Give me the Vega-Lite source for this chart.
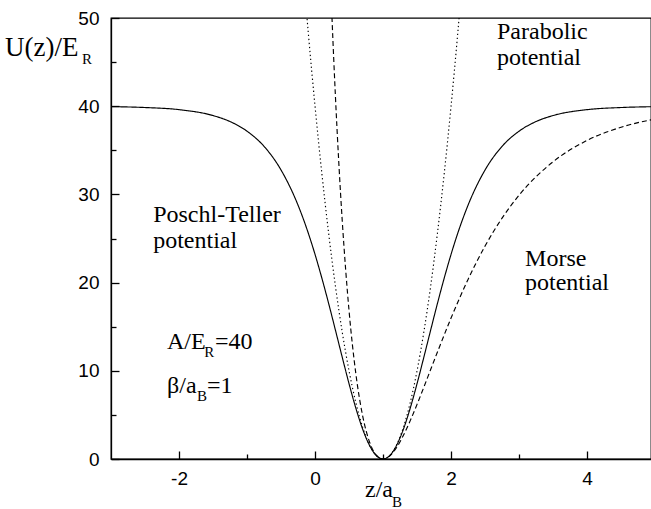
{
  "$schema": "https://vega.github.io/schema/vega-lite/v6.json",
  "width": 540,
  "height": 441,
  "autosize": {"type": "none"},
  "padding": {"left": 111, "top": 18, "right": 0, "bottom": 50},
  "background": "white",
  "config": {
    "view": {"stroke": "black", "strokeWidth": 1.3},
    "axis": {
      "grid": false,
      "domainColor": "black",
      "domainWidth": 1.3,
      "tickColor": "black",
      "tickWidth": 1.3,
      "labelColor": "black",
      "labelFont": "Liberation Sans",
      "labelFontSize": 19,
      "title": null
    }
  },
  "datasets": {
    "curves": [
      {"curve": "Poschl-Teller", "z": -3, "U": 39.95},
      {"curve": "Poschl-Teller", "z": -2.5, "U": 39.85},
      {"curve": "Poschl-Teller", "z": -2, "U": 39.61},
      {"curve": "Poschl-Teller", "z": -1.5, "U": 38.94},
      {"curve": "Poschl-Teller", "z": -1.25, "U": 38.26},
      {"curve": "Poschl-Teller", "z": -1, "U": 37.17},
      {"curve": "Poschl-Teller", "z": -0.75, "U": 35.45},
      {"curve": "Poschl-Teller", "z": -0.5, "U": 32.77},
      {"curve": "Poschl-Teller", "z": -0.25, "U": 28.78},
      {"curve": "Poschl-Teller", "z": -0.1, "U": 25.63},
      {"curve": "Poschl-Teller", "z": 0, "U": 23.2},
      {"curve": "Poschl-Teller", "z": 0.1, "U": 20.52},
      {"curve": "Poschl-Teller", "z": 0.2, "U": 17.64},
      {"curve": "Poschl-Teller", "z": 0.3, "U": 14.61},
      {"curve": "Poschl-Teller", "z": 0.4, "U": 11.54},
      {"curve": "Poschl-Teller", "z": 0.5, "U": 8.54},
      {"curve": "Poschl-Teller", "z": 0.6, "U": 5.77},
      {"curve": "Poschl-Teller", "z": 0.7, "U": 3.39},
      {"curve": "Poschl-Teller", "z": 0.8, "U": 1.56},
      {"curve": "Poschl-Teller", "z": 0.9, "U": 0.4},
      {"curve": "Poschl-Teller", "z": 1, "U": 0},
      {"curve": "Poschl-Teller", "z": 1.1, "U": 0.4},
      {"curve": "Poschl-Teller", "z": 1.2, "U": 1.56},
      {"curve": "Poschl-Teller", "z": 1.3, "U": 3.39},
      {"curve": "Poschl-Teller", "z": 1.4, "U": 5.77},
      {"curve": "Poschl-Teller", "z": 1.5, "U": 8.54},
      {"curve": "Poschl-Teller", "z": 1.6, "U": 11.54},
      {"curve": "Poschl-Teller", "z": 1.7, "U": 14.61},
      {"curve": "Poschl-Teller", "z": 1.8, "U": 17.64},
      {"curve": "Poschl-Teller", "z": 1.9, "U": 20.52},
      {"curve": "Poschl-Teller", "z": 2, "U": 23.2},
      {"curve": "Poschl-Teller", "z": 2.1, "U": 25.63},
      {"curve": "Poschl-Teller", "z": 2.25, "U": 28.78},
      {"curve": "Poschl-Teller", "z": 2.5, "U": 32.77},
      {"curve": "Poschl-Teller", "z": 2.75, "U": 35.45},
      {"curve": "Poschl-Teller", "z": 3, "U": 37.17},
      {"curve": "Poschl-Teller", "z": 3.25, "U": 38.26},
      {"curve": "Poschl-Teller", "z": 3.5, "U": 38.94},
      {"curve": "Poschl-Teller", "z": 4, "U": 39.61},
      {"curve": "Poschl-Teller", "z": 4.5, "U": 39.85},
      {"curve": "Poschl-Teller", "z": 5, "U": 39.95},
      {"curve": "Parabolic", "z": -0.2, "U": 57.6},
      {"curve": "Parabolic", "z": -0.1, "U": 48.4},
      {"curve": "Parabolic", "z": 0, "U": 40},
      {"curve": "Parabolic", "z": 0.1, "U": 32.4},
      {"curve": "Parabolic", "z": 0.2, "U": 25.6},
      {"curve": "Parabolic", "z": 0.3, "U": 19.6},
      {"curve": "Parabolic", "z": 0.4, "U": 14.4},
      {"curve": "Parabolic", "z": 0.5, "U": 10},
      {"curve": "Parabolic", "z": 0.6, "U": 6.4},
      {"curve": "Parabolic", "z": 0.7, "U": 3.6},
      {"curve": "Parabolic", "z": 0.8, "U": 1.6},
      {"curve": "Parabolic", "z": 0.9, "U": 0.4},
      {"curve": "Parabolic", "z": 1, "U": 0},
      {"curve": "Parabolic", "z": 1.1, "U": 0.4},
      {"curve": "Parabolic", "z": 1.2, "U": 1.6},
      {"curve": "Parabolic", "z": 1.3, "U": 3.6},
      {"curve": "Parabolic", "z": 1.4, "U": 6.4},
      {"curve": "Parabolic", "z": 1.5, "U": 10},
      {"curve": "Parabolic", "z": 1.6, "U": 14.4},
      {"curve": "Parabolic", "z": 1.7, "U": 19.6},
      {"curve": "Parabolic", "z": 1.8, "U": 25.6},
      {"curve": "Parabolic", "z": 1.9, "U": 32.4},
      {"curve": "Parabolic", "z": 2, "U": 40},
      {"curve": "Parabolic", "z": 2.1, "U": 48.4},
      {"curve": "Parabolic", "z": 2.2, "U": 57.6},
      {"curve": "Morse", "z": 0.2, "U": 60.08},
      {"curve": "Morse", "z": 0.25, "U": 49.9},
      {"curve": "Morse", "z": 0.3, "U": 41.11},
      {"curve": "Morse", "z": 0.35, "U": 33.53},
      {"curve": "Morse", "z": 0.4, "U": 27.03},
      {"curve": "Morse", "z": 0.45, "U": 21.51},
      {"curve": "Morse", "z": 0.5, "U": 16.83},
      {"curve": "Morse", "z": 0.6, "U": 9.68},
      {"curve": "Morse", "z": 0.7, "U": 4.9},
      {"curve": "Morse", "z": 0.8, "U": 1.96},
      {"curve": "Morse", "z": 0.9, "U": 0.44},
      {"curve": "Morse", "z": 1, "U": 0},
      {"curve": "Morse", "z": 1.1, "U": 0.36},
      {"curve": "Morse", "z": 1.2, "U": 1.31},
      {"curve": "Morse", "z": 1.3, "U": 2.69},
      {"curve": "Morse", "z": 1.4, "U": 4.35},
      {"curve": "Morse", "z": 1.5, "U": 6.19},
      {"curve": "Morse", "z": 1.6, "U": 8.14},
      {"curve": "Morse", "z": 1.7, "U": 10.14},
      {"curve": "Morse", "z": 1.8, "U": 12.13},
      {"curve": "Morse", "z": 2, "U": 15.98},
      {"curve": "Morse", "z": 2.25, "U": 20.36},
      {"curve": "Morse", "z": 2.5, "U": 24.14},
      {"curve": "Morse", "z": 2.75, "U": 27.31},
      {"curve": "Morse", "z": 3, "U": 29.91},
      {"curve": "Morse", "z": 3.5, "U": 33.7},
      {"curve": "Morse", "z": 4, "U": 36.12},
      {"curve": "Morse", "z": 4.5, "U": 37.62},
      {"curve": "Morse", "z": 5, "U": 38.55}
    ],
    "labels": [
      {"kind": "note", "text": "Parabolic", "z": 2.676, "U": 47.62},
      {"kind": "note", "text": "potential", "z": 2.676, "U": 44.67},
      {"kind": "note", "text": "Poschl-Teller", "z": -2.38, "U": 26.87},
      {"kind": "note", "text": "potential", "z": -2.38, "U": 23.92},
      {"kind": "note", "text": "Morse", "z": 3.088, "U": 21.88},
      {"kind": "note", "text": "potential", "z": 3.088, "U": 19.16},
      {"kind": "note", "text": "A/E", "z": -2.176, "U": 12.47},
      {"kind": "note", "text": "=40", "z": -1.47, "U": 12.47},
      {"kind": "note", "text": "β/a", "z": -2.176, "U": 7.48},
      {"kind": "note", "text": "=1", "z": -1.59, "U": 7.48},
      {"kind": "note", "text": "z/a", "z": 0.735, "U": -4.31},
      {"kind": "title", "text": "U(z)/E", "z": -4.559, "U": 45.69},
      {"kind": "sub", "text": "R", "z": -3.426, "U": 44.78},
      {"kind": "sub", "text": "R", "z": -1.63, "U": 11.56},
      {"kind": "sub", "text": "B", "z": -1.735, "U": 6.58},
      {"kind": "sub", "text": "B", "z": 1.132, "U": -5.44}
    ]
  },
  "layer": [
    {
      "data": {"name": "curves"},
      "mark": {"type": "line", "clip": true, "interpolate": "monotone", "color": "black", "strokeWidth": 1.15},
      "encoding": {
        "x": {"field": "z", "type": "quantitative", "scale": {"domain": [-3, 4.94], "nice": false, "zero": false},
          "axis": {"values": [-2, 0, 2, 4], "ticks": false, "labelPadding": 10, "orient": "bottom", "labelExpr": "toString(datum.value)"}},
        "y": {"field": "U", "type": "quantitative", "scale": {"domain": [0, 50], "nice": false, "zero": false},
          "axis": {"values": [0, 10, 20, 30, 40, 50], "ticks": false, "labelPadding": 12, "orient": "left"}},
        "detail": {"field": "curve"},
        "strokeDash": {"field": "curve", "type": "nominal",
          "scale": {"domain": ["Poschl-Teller", "Morse", "Parabolic"], "range": [[1, 0], [5, 3], [1.3, 2.7]]},
          "legend": null}
      }
    },
    {
      "data": {"name": "curves"},
      "mark": {"type": "point", "opacity": 0},
      "encoding": {
        "x": {"field": "z", "type": "quantitative", "scale": {"domain": [-3, 4.94], "nice": false, "zero": false},
          "axis": {"values": [-2, 0, 2, 4], "tickSize": 8, "offset": -8, "labels": false, "domain": false, "orient": "bottom"}},
        "y": {"field": "U", "type": "quantitative", "scale": {"domain": [0, 50], "nice": false, "zero": false},
          "axis": {"values": [0, 10, 20, 30, 40, 50], "tickSize": 8, "offset": -8, "labels": false, "domain": false, "orient": "left"}}
      }
    },
    {
      "data": {"name": "curves"},
      "mark": {"type": "point", "opacity": 0},
      "encoding": {
        "x": {"field": "z", "type": "quantitative", "scale": {"domain": [-3, 4.94], "nice": false, "zero": false},
          "axis": {"values": [-1, 1, 3], "tickSize": 5, "offset": -5, "labels": false, "domain": false, "orient": "bottom"}},
        "y": {"field": "U", "type": "quantitative", "scale": {"domain": [0, 50], "nice": false, "zero": false},
          "axis": {"values": [5, 15, 25, 35, 45], "tickSize": 5, "offset": -5, "labels": false, "domain": false, "orient": "left"}}
      }
    },
    {
      "data": {"name": "labels"},
      "transform": [{"filter": "datum.kind == 'note'"}],
      "mark": {"type": "text", "align": "left", "baseline": "alphabetic", "font": "Liberation Serif", "fontSize": 24, "color": "black"},
      "encoding": {
        "x": {"field": "z", "type": "quantitative", "scale": {"domain": [-3, 4.94], "nice": false, "zero": false}, "axis": null},
        "y": {"field": "U", "type": "quantitative", "scale": {"domain": [0, 50], "nice": false, "zero": false}, "axis": null},
        "text": {"field": "text"}
      }
    },
    {
      "data": {"name": "labels"},
      "transform": [{"filter": "datum.kind == 'title'"}],
      "mark": {"type": "text", "align": "left", "baseline": "alphabetic", "font": "Liberation Serif", "fontSize": 27, "color": "black"},
      "encoding": {
        "x": {"field": "z", "type": "quantitative", "scale": {"domain": [-3, 4.94], "nice": false, "zero": false}, "axis": null},
        "y": {"field": "U", "type": "quantitative", "scale": {"domain": [0, 50], "nice": false, "zero": false}, "axis": null},
        "text": {"field": "text"}
      }
    },
    {
      "data": {"name": "labels"},
      "transform": [{"filter": "datum.kind == 'sub'"}],
      "mark": {"type": "text", "align": "left", "baseline": "alphabetic", "font": "Liberation Serif", "fontSize": 15, "color": "black"},
      "encoding": {
        "x": {"field": "z", "type": "quantitative", "scale": {"domain": [-3, 4.94], "nice": false, "zero": false}, "axis": null},
        "y": {"field": "U", "type": "quantitative", "scale": {"domain": [0, 50], "nice": false, "zero": false}, "axis": null},
        "text": {"field": "text"}
      }
    }
  ],
  "resolve": {"axis": {"x": "independent", "y": "independent"}}
}
